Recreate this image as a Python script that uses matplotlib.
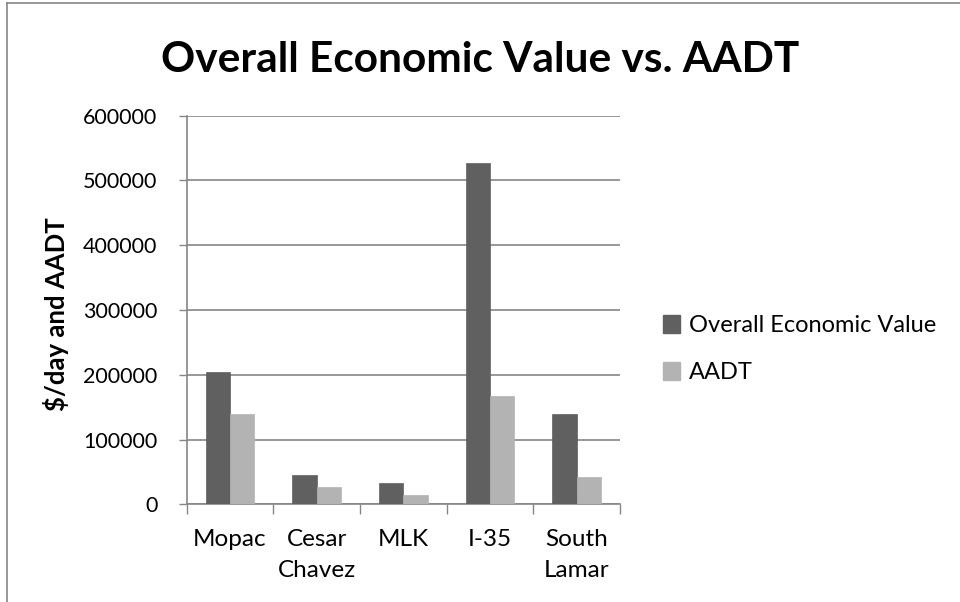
import numpy as np
import matplotlib
matplotlib.use("Agg")
import matplotlib.pyplot as plt
from matplotlib.patches import Patch
from matplotlib.lines import Line2D

roads = ["Mopac", "Cesar\nChavez", "MLK", "I-35", "South\nLamar"]
econ_value = [204000, 46000, 33500, 527000, 139500]
aadt = [139000, 26000, 15000, 167000, 42000]
series_names = ["Overall Economic Value", "AADT"]
y_ticks = [0, 100000, 200000, 300000, 400000, 500000, 600000]

dark = "#606060"
light = "#b3b3b3"
axis_grey = "#868686"

plt.rcParams["font.family"] = ["Lato", "DejaVu Sans"]

fig = plt.figure(figsize=(9.6, 6.02), dpi=100)
ax = fig.add_axes([0.1945, 0.1623, 0.4514, 0.6455])

x = np.arange(len(roads)) + 0.5
w = 0.28
ax.bar(x - w / 2, econ_value, w, color=dark, edgecolor=dark, linewidth=0.5, zorder=3)
ax.bar(x + w / 2, aadt, w, color=light, edgecolor=light, linewidth=0.5, zorder=3)

ax.set_xlim(0, len(roads))
ax.set_ylim(0, 600000)
ax.set_yticks(y_ticks)
ax.set_yticklabels([str(v) for v in y_ticks], fontsize=15.5)
ax.set_xticks(np.arange(len(roads) + 1))
ax.set_xticklabels([])
ax.set_xticks(x, minor=True)
ax.set_xticklabels(roads, minor=True, fontsize=17.5, linespacing=1.55)
ax.tick_params(axis="x", which="minor", length=0, pad=18)
ax.tick_params(axis="x", which="major", length=7, color=axis_grey, width=1)
ax.tick_params(axis="y", length=6, color=axis_grey, width=1, pad=15)

ax.yaxis.grid(True, color=axis_grey, linewidth=1.2, zorder=0)
ax.set_axisbelow(True)
for side in ["top", "right"]:
    ax.spines[side].set_visible(False)
for side in ["left", "bottom"]:
    ax.spines[side].set_color(axis_grey)
    ax.spines[side].set_linewidth(1.2)

ax.set_ylabel("\\$/day and AADT", fontsize=18.5, fontweight="bold")
ax.yaxis.set_label_coords(-0.272, 0.49)

fig.text(0.5, 0.9, "Overall Economic Value vs. AADT", ha="center", va="center",
         fontsize=30.5, fontweight="bold")

handles = [Patch(facecolor=dark, edgecolor=dark), Patch(facecolor=light, edgecolor=light)]
fig.legend(handles, series_names, loc="center left", bbox_to_anchor=(0.668, 0.42),
           frameon=False, fontsize=17, handlelength=0.75, handleheight=0.75,
           handletextpad=0.35, labelspacing=1.1)

# outer chart border (top and left edges visible)
fig.add_artist(Line2D([0.007, 1.0], [0.995, 0.995], color=axis_grey, linewidth=1.2,
                      transform=fig.transFigure))
fig.add_artist(Line2D([0.007, 0.007], [0.0, 0.995], color=axis_grey, linewidth=1.2,
                      transform=fig.transFigure))

fig.savefig("out.png", dpi=100)
